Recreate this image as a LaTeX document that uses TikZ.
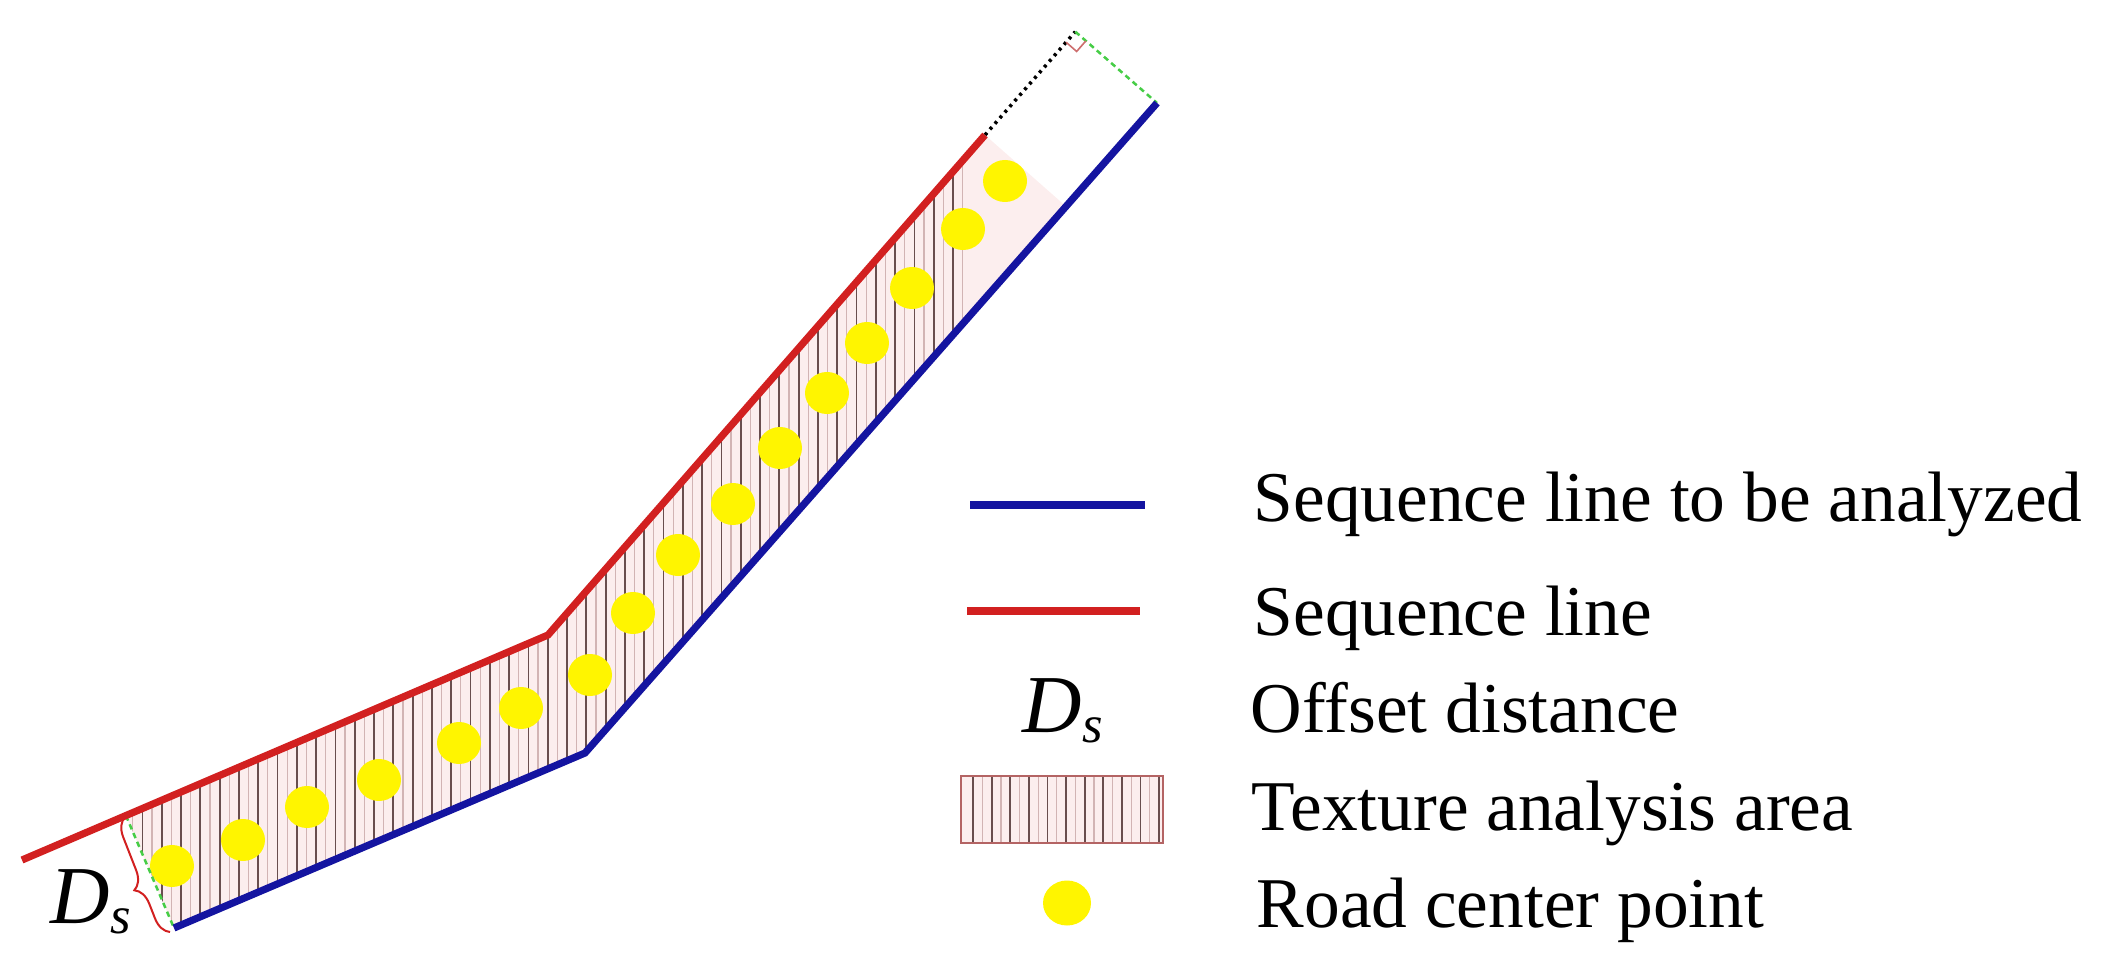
\documentclass[tikz,border=0pt]{standalone}
\usepackage{fontspec}
\setmainfont{Liberation Serif}
\usetikzlibrary{decorations.pathreplacing,calc}
\definecolor{seqblue}{RGB}{20,20,160}
\definecolor{seqred}{RGB}{210,32,32}
\definecolor{hatchbg}{RGB}{252,238,238}
\definecolor{hatchdark}{RGB}{105,78,78}
\definecolor{hatchlight}{RGB}{210,180,180}
\definecolor{dotyellow}{RGB}{255,245,0}
\definecolor{offgreen}{RGB}{70,205,70}
\definecolor{boxedge}{RGB}{180,100,100}
\definecolor{angmark}{RGB}{205,110,110}
\newcommand{\DsText}{{\fontsize{23.4pt}{28pt}\selectfont\itshape D\raisebox{-0.105cm}{\fontsize{15pt}{18pt}\selectfont s}}}
\begin{document}
\begin{tikzpicture}[x=0.01cm,y=-0.01cm,
  blueline/.style={draw=seqblue,line width=0.072cm,line join=miter},
  redline/.style={draw=seqred,line width=0.072cm,line join=miter},
  centerpt/.style={fill=dotyellow},
  hatchdk/.style={draw=hatchdark,line width=0.018cm},
  hatchlt/.style={draw=hatchlight,line width=0.012cm},
  greendash/.style={draw=offgreen,line width=0.025cm,dash pattern=on 0.055cm off 0.04cm},
  blackdot/.style={draw=black,line width=0.035cm,dash pattern=on 0.03cm off 0.045cm},
  legtext/.style={anchor=base west,inner sep=0pt,font=\fontsize{20.3pt}{24pt}\selectfont},
  dslabel/.style={anchor=base west,inner sep=0pt}]
\useasboundingbox (0,0) rectangle (2103,970);

% key points (pixel coordinates)
\coordinate (R1) at (22,860);
\coordinate (R2) at (548,635);
\coordinate (R3) at (985,135);
\coordinate (B1) at (174,928);
\coordinate (B2) at (585,753);
\coordinate (B3) at (1157,103);
\coordinate (F1) at ($(R1)!(B1)!(R2)$);
\coordinate (P)  at ($(B2)!(R3)!(B3)$);
\coordinate (C)  at ($(R2)!(B3)!(R3)$);

% texture analysis area
\begin{scope}
  \clip (F1) -- (R2) -- (R3) -- (P) -- (B2) -- (B1) -- cycle;
  \fill[hatchbg] (0,0) rectangle (1200,970);
  \foreach \k in {0,...,52} {
    \draw[hatchdk] ({953-19.3*\k},0) -- ++(0,970);
    \draw[hatchlt] ({953-19.3*\k+9.65},0) -- ++(0,970);
  }
\end{scope}

% road center points
\foreach \px/\py in {172/866,243/840,307/807,379/780,459/743,521/708,590/675,633/613,
                     678/555,733/504,780/448,827/393,867/343,912/288,963/229,1005/181}
  \fill[centerpt] (\px,\py) ellipse [x radius=22, y radius=21];

% offset constructions
\draw[greendash] (F1) -- (B1);
\draw[blackdot] (R3) -- (C);
\draw[greendash] (C) -- (B3);
\coordinate (m1) at ($(C)!0.14cm!(R3)$);
\coordinate (m2) at ($(C)!0.14cm!(B3)$);
\coordinate (m3) at ($(m1)+(m2)-(C)$);
\draw[angmark,line width=0.016cm] (m1) -- (m3) -- (m2);

% sequence lines
\draw[redline] (R1) -- (R2) -- (R3);
\draw[blueline] (B1) -- (B2) -- (B3);

% brace and label
\coordinate (brB) at (170,932);
\coordinate (brT) at (125,817);
\draw[seqred,line width=0.02cm,decorate,decoration={brace,amplitude=0.18cm,aspect=0.42}] (brB) -- (brT);
\node[dslabel] (dsmain) at (50,923) {\DsText};

% legend
\coordinate (lb1) at (970,505);
\coordinate (lb2) at (1145,505);
\draw[blueline] (lb1) -- (lb2);
\coordinate (lr1) at (967,611);
\coordinate (lr2) at (1140,611);
\draw[redline] (lr1) -- (lr2);
\node[dslabel] (dsleg) at (1022,732) {\DsText};
\begin{scope}
  \fill[hatchbg] (961,776) rectangle (1163,843);
  \foreach \k in {0,...,10} {
    \draw[hatchdk] ({973+18.6*\k},776) -- ++(0,67);
  }
  \foreach \k in {0,...,9} {
    \draw[hatchlt] ({982.3+18.6*\k},776) -- ++(0,67);
  }
  \draw[boxedge,line width=0.022cm] (961,776) rectangle (1163,843);
\end{scope}
\fill[centerpt] (1067,903) ellipse [x radius=24, y radius=22.5];

\node[legtext] (t1) at (1253,521) {Sequence line to be analyzed};
\node[legtext] (t2) at (1253,635) {Sequence line};
\node[legtext] (t3) at (1250,732) {Offset distance};
\node[legtext] (t4) at (1251,830) {Texture analysis area};
\node[legtext] (t5) at (1256,927) {Road center point};
\end{tikzpicture}
\end{document}
